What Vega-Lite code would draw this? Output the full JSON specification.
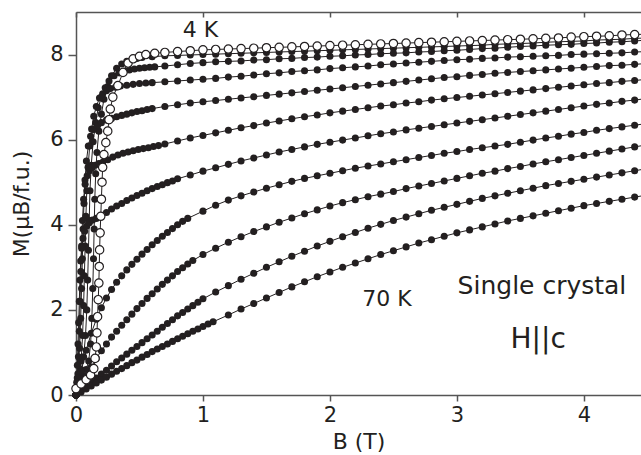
{
"$schema": "https://vega.github.io/schema/vega-lite/v6.json",
"width": 565, "height": 383,
"autosize": {"type": "none"},
"padding": {"left": 76, "top": 12, "right": 0, "bottom": 60},
"config": {"view": {"stroke": null}, "font": "DejaVu Sans"},
"datasets": {"curves": [
{"c":"o","b":0,"m":0.15},{"c":"o","b":0.04,"m":0.26},{"c":"o","b":0.08,"m":0.36},{"c":"o","b":0.115,"m":0.47},{"c":"o","b":0.14,"m":0.62},{"c":"o","b":0.15,"m":0.86},{"c":"o","b":0.16,"m":1.13},{"c":"o","b":0.165,"m":1.46},{"c":"o","b":0.17,"m":1.84},{"c":"o","b":0.175,"m":2.24},{"c":"o","b":0.18,"m":2.63},{"c":"o","b":0.183,"m":3.02},{"c":"o","b":0.186,"m":3.41},{"c":"o","b":0.19,"m":3.81},{"c":"o","b":0.195,"m":4.2},{"c":"o","b":0.2,"m":4.6},{"c":"o","b":0.205,"m":5.0},{"c":"o","b":0.21,"m":5.35},{"c":"o","b":0.22,"m":5.65},{"c":"o","b":0.235,"m":5.93},{"c":"o","b":0.25,"m":6.2},{"c":"o","b":0.26,"m":6.47},{"c":"o","b":0.27,"m":6.72},{"c":"o","b":0.29,"m":7.0},{"c":"o","b":0.33,"m":7.27},{"c":"o","b":0.37,"m":7.58},{"c":"o","b":0.41,"m":7.8},{"c":"o","b":0.45,"m":7.9},{"c":"o","b":0.5,"m":7.96},{"c":"o","b":0.55,"m":8.0},{"c":"o","b":0.62,"m":8.03},{"c":"o","b":0.7,"m":8.05},{"c":"o","b":0.8,"m":8.07},{"c":"o","b":0.9,"m":8.09},{"c":"o","b":1.0,"m":8.11},{"c":"o","b":1.1,"m":8.12},{"c":"o","b":1.2,"m":8.13},{"c":"o","b":1.3,"m":8.14},{"c":"o","b":1.4,"m":8.15},{"c":"o","b":1.5,"m":8.16},{"c":"o","b":1.6,"m":8.17},{"c":"o","b":1.7,"m":8.18},{"c":"o","b":1.8,"m":8.19},{"c":"o","b":1.9,"m":8.2},{"c":"o","b":2.0,"m":8.21},{"c":"o","b":2.1,"m":8.22},{"c":"o","b":2.2,"m":8.23},{"c":"o","b":2.3,"m":8.24},{"c":"o","b":2.4,"m":8.25},{"c":"o","b":2.5,"m":8.26},{"c":"o","b":2.6,"m":8.27},{"c":"o","b":2.7,"m":8.28},{"c":"o","b":2.8,"m":8.29},{"c":"o","b":2.9,"m":8.3},{"c":"o","b":3.0,"m":8.31},{"c":"o","b":3.1,"m":8.32},{"c":"o","b":3.2,"m":8.33},{"c":"o","b":3.3,"m":8.34},{"c":"o","b":3.4,"m":8.35},{"c":"o","b":3.5,"m":8.36},{"c":"o","b":3.6,"m":8.37},{"c":"o","b":3.7,"m":8.38},{"c":"o","b":3.8,"m":8.39},{"c":"o","b":3.9,"m":8.41},{"c":"o","b":4.0,"m":8.42},{"c":"o","b":4.1,"m":8.43},{"c":"o","b":4.2,"m":8.44},{"c":"o","b":4.3,"m":8.46},{"c":"o","b":4.4,"m":8.47},{"c":"o","b":4.5,"m":8.48},
{"c":"f1","b":0,"m":0},{"c":"f1","b":0.02,"m":0.15},{"c":"f1","b":0.04,"m":0.3},{"c":"f1","b":0.06,"m":0.45},{"c":"f1","b":0.08,"m":0.6},{"c":"f1","b":0.1,"m":0.8},{"c":"f1","b":0.115,"m":1.2},{"c":"f1","b":0.125,"m":1.8},{"c":"f1","b":0.132,"m":2.5},{"c":"f1","b":0.138,"m":3.2},{"c":"f1","b":0.143,"m":3.9},{"c":"f1","b":0.148,"m":4.6},{"c":"f1","b":0.155,"m":5.2},{"c":"f1","b":0.165,"m":5.7},{"c":"f1","b":0.18,"m":6.2},{"c":"f1","b":0.2,"m":6.6},{"c":"f1","b":0.22,"m":6.95},{"c":"f1","b":0.25,"m":7.25},{"c":"f1","b":0.28,"m":7.5},{"c":"f1","b":0.32,"m":7.68},{"c":"f1","b":0.36,"m":7.78},{"c":"f1","b":0.4,"m":7.84},{"c":"f1","b":0.44,"m":7.88},{"c":"f1","b":0.48,"m":7.91},{"c":"f1","b":0.52,"m":7.93},{"c":"f1","b":0.6,"m":7.95},{"c":"f1","b":0.7,"m":7.97},{"c":"f1","b":0.8,"m":7.98},{"c":"f1","b":0.9,"m":7.99},{"c":"f1","b":1.0,"m":8.0},{"c":"f1","b":1.1,"m":8.01},{"c":"f1","b":1.2,"m":8.02},{"c":"f1","b":1.3,"m":8.03},{"c":"f1","b":1.4,"m":8.04},{"c":"f1","b":1.5,"m":8.05},{"c":"f1","b":1.6,"m":8.06},{"c":"f1","b":1.7,"m":8.07},{"c":"f1","b":1.8,"m":8.08},{"c":"f1","b":1.9,"m":8.09},{"c":"f1","b":2.0,"m":8.1},{"c":"f1","b":2.1,"m":8.11},{"c":"f1","b":2.2,"m":8.12},{"c":"f1","b":2.3,"m":8.13},{"c":"f1","b":2.4,"m":8.14},{"c":"f1","b":2.5,"m":8.15},{"c":"f1","b":2.6,"m":8.16},{"c":"f1","b":2.7,"m":8.17},{"c":"f1","b":2.8,"m":8.18},{"c":"f1","b":2.9,"m":8.19},{"c":"f1","b":3.0,"m":8.2},{"c":"f1","b":3.1,"m":8.21},{"c":"f1","b":3.2,"m":8.22},{"c":"f1","b":3.3,"m":8.24},{"c":"f1","b":3.4,"m":8.25},{"c":"f1","b":3.5,"m":8.26},{"c":"f1","b":3.6,"m":8.27},{"c":"f1","b":3.7,"m":8.29},{"c":"f1","b":3.8,"m":8.3},{"c":"f1","b":3.9,"m":8.31},{"c":"f1","b":4.0,"m":8.32},{"c":"f1","b":4.1,"m":8.34},{"c":"f1","b":4.2,"m":8.35},{"c":"f1","b":4.3,"m":8.36},{"c":"f1","b":4.4,"m":8.38},{"c":"f1","b":4.5,"m":8.39},
{"c":"f2","b":0,"m":0},{"c":"f2","b":0.02,"m":0.3},{"c":"f2","b":0.04,"m":0.6},{"c":"f2","b":0.06,"m":0.9},{"c":"f2","b":0.075,"m":1.4},{"c":"f2","b":0.085,"m":2.0},{"c":"f2","b":0.092,"m":2.7},{"c":"f2","b":0.098,"m":3.4},{"c":"f2","b":0.104,"m":4.1},{"c":"f2","b":0.11,"m":4.8},{"c":"f2","b":0.12,"m":5.4},{"c":"f2","b":0.135,"m":5.95},{"c":"f2","b":0.155,"m":6.4},{"c":"f2","b":0.175,"m":6.75},{"c":"f2","b":0.2,"m":7.0},{"c":"f2","b":0.23,"m":7.22},{"c":"f2","b":0.26,"m":7.38},{"c":"f2","b":0.3,"m":7.5},{"c":"f2","b":0.34,"m":7.57},{"c":"f2","b":0.38,"m":7.61},{"c":"f2","b":0.42,"m":7.64},{"c":"f2","b":0.46,"m":7.66},{"c":"f2","b":0.5,"m":7.68},{"c":"f2","b":0.54,"m":7.69},{"c":"f2","b":0.58,"m":7.7},{"c":"f2","b":0.62,"m":7.71},{"c":"f2","b":0.7,"m":7.73},{"c":"f2","b":0.8,"m":7.76},{"c":"f2","b":0.9,"m":7.79},{"c":"f2","b":1.0,"m":7.81},{"c":"f2","b":1.1,"m":7.83},{"c":"f2","b":1.2,"m":7.84},{"c":"f2","b":1.3,"m":7.85},{"c":"f2","b":1.4,"m":7.87},{"c":"f2","b":1.5,"m":7.88},{"c":"f2","b":1.6,"m":7.9},{"c":"f2","b":1.7,"m":7.91},{"c":"f2","b":1.8,"m":7.93},{"c":"f2","b":1.9,"m":7.94},{"c":"f2","b":2.0,"m":7.96},{"c":"f2","b":2.1,"m":7.97},{"c":"f2","b":2.2,"m":7.99},{"c":"f2","b":2.3,"m":8.0},{"c":"f2","b":2.4,"m":8.02},{"c":"f2","b":2.5,"m":8.03},{"c":"f2","b":2.6,"m":8.04},{"c":"f2","b":2.7,"m":8.06},{"c":"f2","b":2.8,"m":8.07},{"c":"f2","b":2.9,"m":8.09},{"c":"f2","b":3.0,"m":8.1},{"c":"f2","b":3.1,"m":8.12},{"c":"f2","b":3.2,"m":8.14},{"c":"f2","b":3.3,"m":8.15},{"c":"f2","b":3.4,"m":8.17},{"c":"f2","b":3.5,"m":8.19},{"c":"f2","b":3.6,"m":8.2},{"c":"f2","b":3.7,"m":8.22},{"c":"f2","b":3.8,"m":8.23},{"c":"f2","b":3.9,"m":8.24},{"c":"f2","b":4.0,"m":8.26},{"c":"f2","b":4.1,"m":8.27},{"c":"f2","b":4.2,"m":8.29},{"c":"f2","b":4.3,"m":8.3},{"c":"f2","b":4.4,"m":8.32},{"c":"f2","b":4.5,"m":8.34},
{"c":"f3","b":0,"m":0},{"c":"f3","b":0.02,"m":0.4},{"c":"f3","b":0.04,"m":0.8},{"c":"f3","b":0.052,"m":1.4},{"c":"f3","b":0.06,"m":2.1},{"c":"f3","b":0.066,"m":2.8},{"c":"f3","b":0.072,"m":3.5},{"c":"f3","b":0.078,"m":4.2},{"c":"f3","b":0.085,"m":4.8},{"c":"f3","b":0.095,"m":5.35},{"c":"f3","b":0.108,"m":5.85},{"c":"f3","b":0.123,"m":6.25},{"c":"f3","b":0.14,"m":6.55},{"c":"f3","b":0.16,"m":6.78},{"c":"f3","b":0.185,"m":6.98},{"c":"f3","b":0.21,"m":7.08},{"c":"f3","b":0.24,"m":7.15},{"c":"f3","b":0.27,"m":7.2},{"c":"f3","b":0.31,"m":7.23},{"c":"f3","b":0.35,"m":7.26},{"c":"f3","b":0.4,"m":7.28},{"c":"f3","b":0.45,"m":7.3},{"c":"f3","b":0.5,"m":7.32},{"c":"f3","b":0.55,"m":7.33},{"c":"f3","b":0.6,"m":7.34},{"c":"f3","b":0.7,"m":7.36},{"c":"f3","b":0.8,"m":7.38},{"c":"f3","b":0.9,"m":7.4},{"c":"f3","b":1.0,"m":7.42},{"c":"f3","b":1.1,"m":7.44},{"c":"f3","b":1.2,"m":7.47},{"c":"f3","b":1.3,"m":7.49},{"c":"f3","b":1.4,"m":7.52},{"c":"f3","b":1.5,"m":7.55},{"c":"f3","b":1.6,"m":7.57},{"c":"f3","b":1.7,"m":7.6},{"c":"f3","b":1.8,"m":7.62},{"c":"f3","b":1.9,"m":7.64},{"c":"f3","b":2.0,"m":7.67},{"c":"f3","b":2.1,"m":7.69},{"c":"f3","b":2.2,"m":7.71},{"c":"f3","b":2.3,"m":7.73},{"c":"f3","b":2.4,"m":7.76},{"c":"f3","b":2.5,"m":7.78},{"c":"f3","b":2.6,"m":7.8},{"c":"f3","b":2.7,"m":7.82},{"c":"f3","b":2.8,"m":7.84},{"c":"f3","b":2.9,"m":7.86},{"c":"f3","b":3.0,"m":7.88},{"c":"f3","b":3.1,"m":7.89},{"c":"f3","b":3.2,"m":7.91},{"c":"f3","b":3.3,"m":7.92},{"c":"f3","b":3.4,"m":7.94},{"c":"f3","b":3.5,"m":7.95},{"c":"f3","b":3.6,"m":7.96},{"c":"f3","b":3.7,"m":7.97},{"c":"f3","b":3.8,"m":7.98},{"c":"f3","b":3.9,"m":8.0},{"c":"f3","b":4.0,"m":8.01},{"c":"f3","b":4.1,"m":8.02},{"c":"f3","b":4.2,"m":8.03},{"c":"f3","b":4.3,"m":8.04},{"c":"f3","b":4.4,"m":8.06},{"c":"f3","b":4.5,"m":8.07},
{"c":"f4","b":0,"m":0},{"c":"f4","b":0.015,"m":0.5},{"c":"f4","b":0.028,"m":1.1},{"c":"f4","b":0.037,"m":1.8},{"c":"f4","b":0.044,"m":2.5},{"c":"f4","b":0.05,"m":3.2},{"c":"f4","b":0.056,"m":3.9},{"c":"f4","b":0.063,"m":4.5},{"c":"f4","b":0.071,"m":5.05},{"c":"f4","b":0.082,"m":5.5},{"c":"f4","b":0.097,"m":5.85},{"c":"f4","b":0.115,"m":6.08},{"c":"f4","b":0.14,"m":6.24},{"c":"f4","b":0.17,"m":6.33},{"c":"f4","b":0.2,"m":6.4},{"c":"f4","b":0.24,"m":6.46},{"c":"f4","b":0.28,"m":6.5},{"c":"f4","b":0.32,"m":6.54},{"c":"f4","b":0.36,"m":6.57},{"c":"f4","b":0.4,"m":6.6},{"c":"f4","b":0.44,"m":6.63},{"c":"f4","b":0.48,"m":6.66},{"c":"f4","b":0.52,"m":6.68},{"c":"f4","b":0.56,"m":6.71},{"c":"f4","b":0.6,"m":6.73},{"c":"f4","b":0.7,"m":6.78},{"c":"f4","b":0.8,"m":6.82},{"c":"f4","b":0.9,"m":6.86},{"c":"f4","b":1.0,"m":6.89},{"c":"f4","b":1.1,"m":6.92},{"c":"f4","b":1.2,"m":6.95},{"c":"f4","b":1.3,"m":6.98},{"c":"f4","b":1.4,"m":7.01},{"c":"f4","b":1.5,"m":7.04},{"c":"f4","b":1.6,"m":7.07},{"c":"f4","b":1.7,"m":7.1},{"c":"f4","b":1.8,"m":7.13},{"c":"f4","b":1.9,"m":7.16},{"c":"f4","b":2.0,"m":7.19},{"c":"f4","b":2.1,"m":7.22},{"c":"f4","b":2.2,"m":7.25},{"c":"f4","b":2.3,"m":7.28},{"c":"f4","b":2.4,"m":7.31},{"c":"f4","b":2.5,"m":7.34},{"c":"f4","b":2.6,"m":7.37},{"c":"f4","b":2.7,"m":7.4},{"c":"f4","b":2.8,"m":7.43},{"c":"f4","b":2.9,"m":7.46},{"c":"f4","b":3.0,"m":7.48},{"c":"f4","b":3.1,"m":7.51},{"c":"f4","b":3.2,"m":7.53},{"c":"f4","b":3.3,"m":7.56},{"c":"f4","b":3.4,"m":7.58},{"c":"f4","b":3.5,"m":7.6},{"c":"f4","b":3.6,"m":7.62},{"c":"f4","b":3.7,"m":7.64},{"c":"f4","b":3.8,"m":7.66},{"c":"f4","b":3.9,"m":7.68},{"c":"f4","b":4.0,"m":7.7},{"c":"f4","b":4.1,"m":7.72},{"c":"f4","b":4.2,"m":7.74},{"c":"f4","b":4.3,"m":7.75},{"c":"f4","b":4.4,"m":7.77},{"c":"f4","b":4.5,"m":7.79},
{"c":"f5","b":0,"m":0},{"c":"f5","b":0.01,"m":0.4},{"c":"f5","b":0.019,"m":0.9},{"c":"f5","b":0.026,"m":1.5},{"c":"f5","b":0.032,"m":2.2},{"c":"f5","b":0.038,"m":2.9},{"c":"f5","b":0.044,"m":3.5},{"c":"f5","b":0.051,"m":4.1},{"c":"f5","b":0.06,"m":4.6},{"c":"f5","b":0.072,"m":4.95},{"c":"f5","b":0.088,"m":5.15},{"c":"f5","b":0.106,"m":5.27},{"c":"f5","b":0.126,"m":5.34},{"c":"f5","b":0.15,"m":5.4},{"c":"f5","b":0.18,"m":5.44},{"c":"f5","b":0.21,"m":5.47},{"c":"f5","b":0.25,"m":5.53},{"c":"f5","b":0.29,"m":5.59},{"c":"f5","b":0.33,"m":5.64},{"c":"f5","b":0.37,"m":5.68},{"c":"f5","b":0.41,"m":5.71},{"c":"f5","b":0.45,"m":5.74},{"c":"f5","b":0.49,"m":5.77},{"c":"f5","b":0.53,"m":5.79},{"c":"f5","b":0.57,"m":5.81},{"c":"f5","b":0.61,"m":5.84},{"c":"f5","b":0.65,"m":5.86},{"c":"f5","b":0.7,"m":5.9},{"c":"f5","b":0.8,"m":5.97},{"c":"f5","b":0.9,"m":6.04},{"c":"f5","b":1.0,"m":6.1},{"c":"f5","b":1.1,"m":6.16},{"c":"f5","b":1.2,"m":6.22},{"c":"f5","b":1.3,"m":6.28},{"c":"f5","b":1.4,"m":6.33},{"c":"f5","b":1.5,"m":6.39},{"c":"f5","b":1.6,"m":6.44},{"c":"f5","b":1.7,"m":6.49},{"c":"f5","b":1.8,"m":6.54},{"c":"f5","b":1.9,"m":6.58},{"c":"f5","b":2.0,"m":6.63},{"c":"f5","b":2.1,"m":6.67},{"c":"f5","b":2.2,"m":6.71},{"c":"f5","b":2.3,"m":6.75},{"c":"f5","b":2.4,"m":6.79},{"c":"f5","b":2.5,"m":6.82},{"c":"f5","b":2.6,"m":6.86},{"c":"f5","b":2.7,"m":6.89},{"c":"f5","b":2.8,"m":6.93},{"c":"f5","b":2.9,"m":6.96},{"c":"f5","b":3.0,"m":6.99},{"c":"f5","b":3.1,"m":7.02},{"c":"f5","b":3.2,"m":7.05},{"c":"f5","b":3.3,"m":7.08},{"c":"f5","b":3.4,"m":7.11},{"c":"f5","b":3.5,"m":7.14},{"c":"f5","b":3.6,"m":7.17},{"c":"f5","b":3.7,"m":7.2},{"c":"f5","b":3.8,"m":7.23},{"c":"f5","b":3.9,"m":7.26},{"c":"f5","b":4.0,"m":7.29},{"c":"f5","b":4.1,"m":7.32},{"c":"f5","b":4.2,"m":7.34},{"c":"f5","b":4.3,"m":7.37},{"c":"f5","b":4.4,"m":7.39},{"c":"f5","b":4.5,"m":7.42},
{"c":"f6","b":0,"m":0},{"c":"f6","b":0.006,"m":0.3},{"c":"f6","b":0.011,"m":0.7},{"c":"f6","b":0.016,"m":1.2},{"c":"f6","b":0.021,"m":1.7},{"c":"f6","b":0.026,"m":2.2},{"c":"f6","b":0.031,"m":2.7},{"c":"f6","b":0.037,"m":3.15},{"c":"f6","b":0.045,"m":3.45},{"c":"f6","b":0.055,"m":3.68},{"c":"f6","b":0.068,"m":3.85},{"c":"f6","b":0.085,"m":3.97},{"c":"f6","b":0.105,"m":4.05},{"c":"f6","b":0.13,"m":4.11},{"c":"f6","b":0.16,"m":4.15},{"c":"f6","b":0.2,"m":4.21},{"c":"f6","b":0.24,"m":4.29},{"c":"f6","b":0.28,"m":4.37},{"c":"f6","b":0.32,"m":4.44},{"c":"f6","b":0.36,"m":4.5},{"c":"f6","b":0.4,"m":4.57},{"c":"f6","b":0.44,"m":4.63},{"c":"f6","b":0.48,"m":4.69},{"c":"f6","b":0.52,"m":4.74},{"c":"f6","b":0.56,"m":4.8},{"c":"f6","b":0.6,"m":4.85},{"c":"f6","b":0.64,"m":4.9},{"c":"f6","b":0.68,"m":4.94},{"c":"f6","b":0.72,"m":4.99},{"c":"f6","b":0.76,"m":5.03},{"c":"f6","b":0.8,"m":5.08},{"c":"f6","b":0.9,"m":5.17},{"c":"f6","b":1.0,"m":5.26},{"c":"f6","b":1.1,"m":5.34},{"c":"f6","b":1.2,"m":5.42},{"c":"f6","b":1.3,"m":5.5},{"c":"f6","b":1.4,"m":5.57},{"c":"f6","b":1.5,"m":5.64},{"c":"f6","b":1.6,"m":5.71},{"c":"f6","b":1.7,"m":5.77},{"c":"f6","b":1.8,"m":5.83},{"c":"f6","b":1.9,"m":5.89},{"c":"f6","b":2.0,"m":5.94},{"c":"f6","b":2.1,"m":5.99},{"c":"f6","b":2.2,"m":6.04},{"c":"f6","b":2.3,"m":6.09},{"c":"f6","b":2.4,"m":6.14},{"c":"f6","b":2.5,"m":6.18},{"c":"f6","b":2.6,"m":6.23},{"c":"f6","b":2.7,"m":6.27},{"c":"f6","b":2.8,"m":6.31},{"c":"f6","b":2.9,"m":6.35},{"c":"f6","b":3.0,"m":6.39},{"c":"f6","b":3.1,"m":6.43},{"c":"f6","b":3.2,"m":6.47},{"c":"f6","b":3.3,"m":6.51},{"c":"f6","b":3.4,"m":6.55},{"c":"f6","b":3.5,"m":6.59},{"c":"f6","b":3.6,"m":6.63},{"c":"f6","b":3.7,"m":6.67},{"c":"f6","b":3.8,"m":6.71},{"c":"f6","b":3.9,"m":6.75},{"c":"f6","b":4.0,"m":6.79},{"c":"f6","b":4.1,"m":6.83},{"c":"f6","b":4.2,"m":6.86},{"c":"f6","b":4.3,"m":6.9},{"c":"f6","b":4.4,"m":6.93},{"c":"f6","b":4.5,"m":6.97},
{"c":"f7","b":0,"m":0},{"c":"f7","b":0.04,"m":0.55},{"c":"f7","b":0.08,"m":1.05},{"c":"f7","b":0.12,"m":1.45},{"c":"f7","b":0.16,"m":1.78},{"c":"f7","b":0.2,"m":2.05},{"c":"f7","b":0.24,"m":2.28},{"c":"f7","b":0.28,"m":2.48},{"c":"f7","b":0.32,"m":2.65},{"c":"f7","b":0.36,"m":2.8},{"c":"f7","b":0.4,"m":2.94},{"c":"f7","b":0.44,"m":3.07},{"c":"f7","b":0.48,"m":3.19},{"c":"f7","b":0.52,"m":3.31},{"c":"f7","b":0.56,"m":3.42},{"c":"f7","b":0.6,"m":3.53},{"c":"f7","b":0.64,"m":3.63},{"c":"f7","b":0.68,"m":3.73},{"c":"f7","b":0.72,"m":3.82},{"c":"f7","b":0.76,"m":3.91},{"c":"f7","b":0.8,"m":4.0},{"c":"f7","b":0.84,"m":4.08},{"c":"f7","b":0.88,"m":4.15},{"c":"f7","b":1.0,"m":4.32},{"c":"f7","b":1.1,"m":4.46},{"c":"f7","b":1.2,"m":4.58},{"c":"f7","b":1.3,"m":4.68},{"c":"f7","b":1.4,"m":4.77},{"c":"f7","b":1.5,"m":4.86},{"c":"f7","b":1.6,"m":4.94},{"c":"f7","b":1.7,"m":5.02},{"c":"f7","b":1.8,"m":5.09},{"c":"f7","b":1.9,"m":5.15},{"c":"f7","b":2.0,"m":5.21},{"c":"f7","b":2.1,"m":5.27},{"c":"f7","b":2.2,"m":5.33},{"c":"f7","b":2.3,"m":5.38},{"c":"f7","b":2.4,"m":5.43},{"c":"f7","b":2.5,"m":5.48},{"c":"f7","b":2.6,"m":5.53},{"c":"f7","b":2.7,"m":5.58},{"c":"f7","b":2.8,"m":5.63},{"c":"f7","b":2.9,"m":5.68},{"c":"f7","b":3.0,"m":5.72},{"c":"f7","b":3.1,"m":5.77},{"c":"f7","b":3.2,"m":5.81},{"c":"f7","b":3.3,"m":5.85},{"c":"f7","b":3.4,"m":5.89},{"c":"f7","b":3.5,"m":5.94},{"c":"f7","b":3.6,"m":5.99},{"c":"f7","b":3.7,"m":6.04},{"c":"f7","b":3.8,"m":6.08},{"c":"f7","b":3.9,"m":6.13},{"c":"f7","b":4.0,"m":6.17},{"c":"f7","b":4.1,"m":6.22},{"c":"f7","b":4.2,"m":6.26},{"c":"f7","b":4.3,"m":6.3},{"c":"f7","b":4.4,"m":6.34},{"c":"f7","b":4.5,"m":6.38},
{"c":"f8","b":0,"m":0},{"c":"f8","b":0.04,"m":0.22},{"c":"f8","b":0.08,"m":0.44},{"c":"f8","b":0.12,"m":0.66},{"c":"f8","b":0.16,"m":0.86},{"c":"f8","b":0.2,"m":1.04},{"c":"f8","b":0.24,"m":1.2},{"c":"f8","b":0.28,"m":1.36},{"c":"f8","b":0.32,"m":1.5},{"c":"f8","b":0.36,"m":1.64},{"c":"f8","b":0.4,"m":1.77},{"c":"f8","b":0.44,"m":1.9},{"c":"f8","b":0.48,"m":2.03},{"c":"f8","b":0.52,"m":2.15},{"c":"f8","b":0.56,"m":2.27},{"c":"f8","b":0.6,"m":2.38},{"c":"f8","b":0.64,"m":2.49},{"c":"f8","b":0.68,"m":2.6},{"c":"f8","b":0.72,"m":2.7},{"c":"f8","b":0.76,"m":2.8},{"c":"f8","b":0.8,"m":2.9},{"c":"f8","b":0.84,"m":2.99},{"c":"f8","b":0.88,"m":3.08},{"c":"f8","b":0.92,"m":3.16},{"c":"f8","b":1.0,"m":3.3},{"c":"f8","b":1.1,"m":3.45},{"c":"f8","b":1.2,"m":3.59},{"c":"f8","b":1.3,"m":3.72},{"c":"f8","b":1.4,"m":3.84},{"c":"f8","b":1.5,"m":3.95},{"c":"f8","b":1.6,"m":4.06},{"c":"f8","b":1.7,"m":4.16},{"c":"f8","b":1.8,"m":4.26},{"c":"f8","b":1.9,"m":4.35},{"c":"f8","b":2.0,"m":4.44},{"c":"f8","b":2.1,"m":4.52},{"c":"f8","b":2.2,"m":4.59},{"c":"f8","b":2.3,"m":4.66},{"c":"f8","b":2.4,"m":4.72},{"c":"f8","b":2.5,"m":4.78},{"c":"f8","b":2.6,"m":4.85},{"c":"f8","b":2.7,"m":4.91},{"c":"f8","b":2.8,"m":4.97},{"c":"f8","b":2.9,"m":5.03},{"c":"f8","b":3.0,"m":5.09},{"c":"f8","b":3.1,"m":5.15},{"c":"f8","b":3.2,"m":5.21},{"c":"f8","b":3.3,"m":5.26},{"c":"f8","b":3.4,"m":5.32},{"c":"f8","b":3.5,"m":5.37},{"c":"f8","b":3.6,"m":5.43},{"c":"f8","b":3.7,"m":5.48},{"c":"f8","b":3.8,"m":5.53},{"c":"f8","b":3.9,"m":5.58},{"c":"f8","b":4.0,"m":5.63},{"c":"f8","b":4.1,"m":5.68},{"c":"f8","b":4.2,"m":5.73},{"c":"f8","b":4.3,"m":5.78},{"c":"f8","b":4.4,"m":5.83},{"c":"f8","b":4.5,"m":5.88},
{"c":"f9","b":0,"m":0},{"c":"f9","b":0.04,"m":0.1},{"c":"f9","b":0.08,"m":0.2},{"c":"f9","b":0.12,"m":0.3},{"c":"f9","b":0.16,"m":0.4},{"c":"f9","b":0.2,"m":0.49},{"c":"f9","b":0.24,"m":0.58},{"c":"f9","b":0.28,"m":0.68},{"c":"f9","b":0.32,"m":0.78},{"c":"f9","b":0.36,"m":0.87},{"c":"f9","b":0.4,"m":0.96},{"c":"f9","b":0.44,"m":1.05},{"c":"f9","b":0.48,"m":1.14},{"c":"f9","b":0.52,"m":1.23},{"c":"f9","b":0.56,"m":1.32},{"c":"f9","b":0.6,"m":1.41},{"c":"f9","b":0.64,"m":1.5},{"c":"f9","b":0.68,"m":1.59},{"c":"f9","b":0.72,"m":1.68},{"c":"f9","b":0.76,"m":1.77},{"c":"f9","b":0.8,"m":1.86},{"c":"f9","b":0.84,"m":1.94},{"c":"f9","b":0.88,"m":2.02},{"c":"f9","b":0.92,"m":2.1},{"c":"f9","b":0.96,"m":2.18},{"c":"f9","b":1.0,"m":2.26},{"c":"f9","b":1.1,"m":2.42},{"c":"f9","b":1.2,"m":2.57},{"c":"f9","b":1.3,"m":2.72},{"c":"f9","b":1.4,"m":2.86},{"c":"f9","b":1.5,"m":3.0},{"c":"f9","b":1.6,"m":3.13},{"c":"f9","b":1.7,"m":3.26},{"c":"f9","b":1.8,"m":3.38},{"c":"f9","b":1.9,"m":3.5},{"c":"f9","b":2.0,"m":3.61},{"c":"f9","b":2.1,"m":3.72},{"c":"f9","b":2.2,"m":3.82},{"c":"f9","b":2.3,"m":3.92},{"c":"f9","b":2.4,"m":4.01},{"c":"f9","b":2.5,"m":4.1},{"c":"f9","b":2.6,"m":4.18},{"c":"f9","b":2.7,"m":4.26},{"c":"f9","b":2.8,"m":4.34},{"c":"f9","b":2.9,"m":4.41},{"c":"f9","b":3.0,"m":4.48},{"c":"f9","b":3.1,"m":4.55},{"c":"f9","b":3.2,"m":4.62},{"c":"f9","b":3.3,"m":4.68},{"c":"f9","b":3.4,"m":4.74},{"c":"f9","b":3.5,"m":4.8},{"c":"f9","b":3.6,"m":4.86},{"c":"f9","b":3.7,"m":4.92},{"c":"f9","b":3.8,"m":4.97},{"c":"f9","b":3.9,"m":5.02},{"c":"f9","b":4.0,"m":5.07},{"c":"f9","b":4.1,"m":5.12},{"c":"f9","b":4.2,"m":5.17},{"c":"f9","b":4.3,"m":5.22},{"c":"f9","b":4.4,"m":5.27},{"c":"f9","b":4.5,"m":5.32},
{"c":"f10","b":0,"m":0},{"c":"f10","b":0.04,"m":0.07},{"c":"f10","b":0.08,"m":0.14},{"c":"f10","b":0.12,"m":0.21},{"c":"f10","b":0.16,"m":0.28},{"c":"f10","b":0.2,"m":0.35},{"c":"f10","b":0.24,"m":0.42},{"c":"f10","b":0.28,"m":0.49},{"c":"f10","b":0.32,"m":0.56},{"c":"f10","b":0.36,"m":0.62},{"c":"f10","b":0.4,"m":0.69},{"c":"f10","b":0.44,"m":0.76},{"c":"f10","b":0.48,"m":0.82},{"c":"f10","b":0.52,"m":0.89},{"c":"f10","b":0.56,"m":0.95},{"c":"f10","b":0.6,"m":1.02},{"c":"f10","b":0.64,"m":1.08},{"c":"f10","b":0.68,"m":1.14},{"c":"f10","b":0.72,"m":1.2},{"c":"f10","b":0.76,"m":1.26},{"c":"f10","b":0.8,"m":1.32},{"c":"f10","b":0.84,"m":1.38},{"c":"f10","b":0.88,"m":1.44},{"c":"f10","b":0.92,"m":1.5},{"c":"f10","b":0.96,"m":1.55},{"c":"f10","b":1.0,"m":1.61},{"c":"f10","b":1.04,"m":1.67},{"c":"f10","b":1.08,"m":1.72},{"c":"f10","b":1.2,"m":1.88},{"c":"f10","b":1.3,"m":2.02},{"c":"f10","b":1.4,"m":2.15},{"c":"f10","b":1.5,"m":2.28},{"c":"f10","b":1.6,"m":2.41},{"c":"f10","b":1.7,"m":2.54},{"c":"f10","b":1.8,"m":2.66},{"c":"f10","b":1.9,"m":2.78},{"c":"f10","b":2.0,"m":2.89},{"c":"f10","b":2.1,"m":3.0},{"c":"f10","b":2.2,"m":3.1},{"c":"f10","b":2.3,"m":3.2},{"c":"f10","b":2.4,"m":3.3},{"c":"f10","b":2.5,"m":3.39},{"c":"f10","b":2.6,"m":3.48},{"c":"f10","b":2.7,"m":3.57},{"c":"f10","b":2.8,"m":3.65},{"c":"f10","b":2.9,"m":3.73},{"c":"f10","b":3.0,"m":3.81},{"c":"f10","b":3.1,"m":3.88},{"c":"f10","b":3.2,"m":3.95},{"c":"f10","b":3.3,"m":4.02},{"c":"f10","b":3.4,"m":4.09},{"c":"f10","b":3.5,"m":4.15},{"c":"f10","b":3.6,"m":4.21},{"c":"f10","b":3.7,"m":4.27},{"c":"f10","b":3.8,"m":4.33},{"c":"f10","b":3.9,"m":4.39},{"c":"f10","b":4.0,"m":4.45},{"c":"f10","b":4.1,"m":4.5},{"c":"f10","b":4.2,"m":4.55},{"c":"f10","b":4.3,"m":4.6},{"c":"f10","b":4.4,"m":4.65},{"c":"f10","b":4.5,"m":4.7}
]},
"resolve": {"axis": {"x": "independent"}},
"layer": [
{"data": {"name": "curves"},
 "transform": [{"filter": "datum.c != 'o'"}],
 "mark": {"type": "line", "color": "#231f20", "strokeWidth": 1},
 "encoding": {
  "x": {"field": "b", "type": "quantitative", "scale": {"domain": [0, 4.45], "nice": false, "zero": false},
        "axis": {"values": [0,1,2,3,4], "format": "d", "grid": false, "title": "B (T)", "labelFontSize": 21, "titleFontSize": 22, "titleFontWeight": "normal", "titleColor": "#231f20", "labelColor": "#231f20", "domainColor": "#555555", "tickColor": "#555555", "domainWidth": 1.5, "tickWidth": 1.5, "tickSize": 6, "labelPadding": 3, "titlePadding": 6, "labelFlush": false}},
  "y": {"field": "m", "type": "quantitative", "scale": {"domain": [0, 9], "nice": false},
        "axis": {"values": [0,2,4,6,8], "grid": false, "title": "M(μB/f.u.)", "labelFontSize": 21, "titleFontSize": 22, "titleFontWeight": "normal", "titleColor": "#231f20", "labelColor": "#231f20", "domainColor": "#555555", "tickColor": "#555555", "domainWidth": 1.5, "tickWidth": 1.5, "tickSize": 8, "labelPadding": 5, "titlePadding": 16}},
  "detail": {"field": "c"}
 }},
{"data": {"name": "curves"},
 "transform": [{"filter": "datum.c != 'o'"}],
 "mark": {"type": "point", "shape": "circle", "filled": true, "color": "#231f20", "opacity": 1, "size": 50},
 "encoding": {
  "x": {"field": "b", "type": "quantitative", "axis": null},
  "y": {"field": "m", "type": "quantitative"}
 }},
{"data": {"name": "curves"},
 "transform": [{"filter": "datum.c == 'o'"}],
 "mark": {"type": "line", "color": "#231f20", "strokeWidth": 1},
 "encoding": {
  "x": {"field": "b", "type": "quantitative", "axis": null},
  "y": {"field": "m", "type": "quantitative"}
 }},
{"data": {"name": "curves"},
 "transform": [{"filter": "datum.c == 'o'"}],
 "mark": {"type": "point", "shape": "circle", "filled": true, "fill": "white", "stroke": "#231f20", "strokeWidth": 1.2, "opacity": 1, "size": 70},
 "encoding": {
  "x": {"field": "b", "type": "quantitative",
        "axis": {"orient": "top", "values": [0,1,2,3,4], "labels": false, "title": null, "grid": false, "domainColor": "#555555", "tickColor": "#555555", "domainWidth": 1.5, "tickWidth": 1.5, "tickSize": -5}},
  "y": {"field": "m", "type": "quantitative"}
 }},
{"data": {"values": [{}]},
 "mark": {"type": "text", "text": "4 K", "fontSize": 22, "align": "center", "baseline": "alphabetic", "color": "#231f20"},
 "encoding": {"x": {"datum": 0.98, "type": "quantitative", "axis": null}, "y": {"datum": 8.42, "type": "quantitative"}}},
{"data": {"values": [{}]},
 "mark": {"type": "text", "text": "70 K", "fontSize": 22, "align": "center", "baseline": "alphabetic", "color": "#231f20"},
 "encoding": {"x": {"datum": 2.45, "type": "quantitative", "axis": null}, "y": {"datum": 2.09, "type": "quantitative"}}},
{"data": {"values": [{}]},
 "mark": {"type": "text", "text": "Single crystal", "fontSize": 25, "align": "center", "baseline": "alphabetic", "color": "#231f20"},
 "encoding": {"x": {"datum": 3.67, "type": "quantitative", "axis": null}, "y": {"datum": 2.37, "type": "quantitative"}}},
{"data": {"values": [{}]},
 "mark": {"type": "text", "text": "H||c", "fontSize": 28, "align": "center", "baseline": "alphabetic", "color": "#231f20"},
 "encoding": {"x": {"datum": 3.64, "type": "quantitative", "axis": null}, "y": {"datum": 1.1, "type": "quantitative"}}}
]
}
